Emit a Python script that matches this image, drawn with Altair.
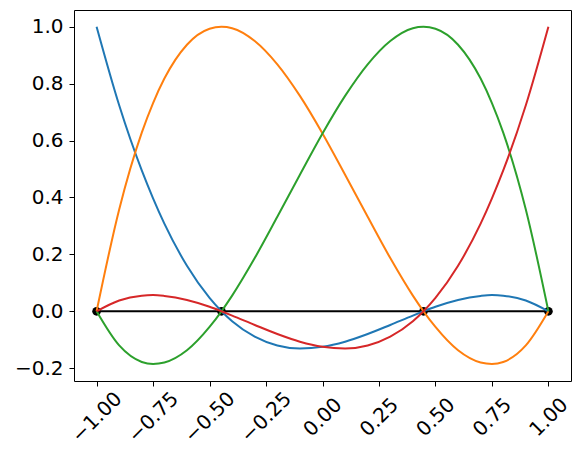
import altair as alt
import pandas as pd

xs = [-1.0, -0.9, -0.8, -0.75, -0.7, -0.6, -0.5, -0.4472, -0.4, -0.3, -0.2, -0.1, 0.0,
      0.1, 0.2, 0.3, 0.4, 0.4472, 0.5, 0.6, 0.7, 0.75, 0.8, 0.9, 1.0]
blue = [1.0, 0.724, 0.495, 0.397, 0.308, 0.160, 0.047, 0.0, -0.035, -0.089, -0.120, -0.131, -0.125,
        -0.107, -0.080, -0.048, -0.015, 0.0, 0.016, 0.040, 0.054, 0.057, 0.055, 0.038, 0.0]
orange = [0.0, 0.358, 0.628, 0.732, 0.818, 0.937, 0.993, 1.0, 0.995, 0.950, 0.868, 0.757, 0.625,
          0.480, 0.332, 0.187, 0.055, 0.0, -0.055, -0.137, -0.180, -0.185, -0.178, -0.120, 0.0]
green = [0.0, -0.120, -0.178, -0.185, -0.180, -0.137, -0.055, 0.0, 0.055, 0.187, 0.332, 0.480, 0.625,
         0.757, 0.868, 0.950, 0.995, 1.0, 0.993, 0.937, 0.818, 0.732, 0.628, 0.358, 0.0]
red = [0.0, 0.038, 0.055, 0.057, 0.054, 0.040, 0.016, 0.0, -0.015, -0.048, -0.080, -0.107, -0.125,
       -0.131, -0.120, -0.089, -0.035, 0.0, 0.047, 0.160, 0.308, 0.397, 0.495, 0.724, 1.0]
nodes = [-1.0, -0.4472, 0.4472, 1.0]
node_vals = [0.0, 0.0, 0.0, 0.0]

series_names = ["L0", "L1", "L2", "L3"]
series_vals = [blue, orange, green, red]
colors = ["#1f77b4", "#ff7f0e", "#2ca02c", "#d62728"]
x_ticks = [-1.0, -0.75, -0.5, -0.25, 0.0, 0.25, 0.5, 0.75, 1.0]
y_ticks = [-0.2, 0.0, 0.2, 0.4, 0.6, 0.8, 1.0]

rows = []
for name, vals in zip(series_names, series_vals):
    for i, (x, y) in enumerate(zip(xs, vals)):
        rows.append({"x": x, "y": y, "s": name, "i": i})
df = pd.DataFrame(rows)
nodes_df = pd.DataFrame({"x": nodes, "y": node_vals})

xscale = alt.Scale(domain=[-1.1, 1.1], nice=False, zero=False)
yscale = alt.Scale(domain=[-0.245, 1.059], nice=False, zero=False)

xaxis = alt.Axis(values=x_ticks, format=".2f", labelAngle=-45, labelAlign="center",
                 labelBaseline="middle", labelPadding=31, labelOverlap=False, labelFlush=False,
                 labelBound=False)
yaxis = alt.Axis(values=y_ticks, format=".1f", labelPadding=6, labelOverlap=False, labelFlush=False)

curves = alt.Chart(df).mark_line(strokeWidth=2, interpolate="monotone").encode(
    x=alt.X("x:Q", scale=xscale, axis=xaxis, title=None),
    y=alt.Y("y:Q", scale=yscale, axis=yaxis, title=None),
    color=alt.Color("s:N", scale=alt.Scale(domain=series_names, range=colors), legend=None),
    order="i:Q",
)

zero_line = alt.Chart(nodes_df).mark_line(color="black", strokeWidth=2).encode(
    x=alt.X("x:Q", scale=xscale, axis=xaxis, title=None),
    y=alt.Y("y:Q", scale=yscale, axis=yaxis, title=None)
)
dots = alt.Chart(nodes_df).mark_circle(color="black", size=75, opacity=1).encode(
    x=alt.X("x:Q", scale=xscale, axis=xaxis, title=None),
    y=alt.Y("y:Q", scale=yscale, axis=yaxis, title=None)
)

chart = alt.layer(dots, zero_line, curves).properties(
    width=497, height=371,
    background="white",
    autosize=alt.AutoSizeParams(type="none"),
    padding={"left": 66, "top": 2, "right": 2, "bottom": 72},
).configure_view(stroke="black", strokeWidth=1).configure_axis(
    grid=False, domain=False, tickColor="black", tickSize=5, tickWidth=1,
    labelFont="DejaVu Sans", labelFontSize=20, labelColor="black",
)

chart.save("out.html", embed_options={"renderer": "svg", "actions": False})
